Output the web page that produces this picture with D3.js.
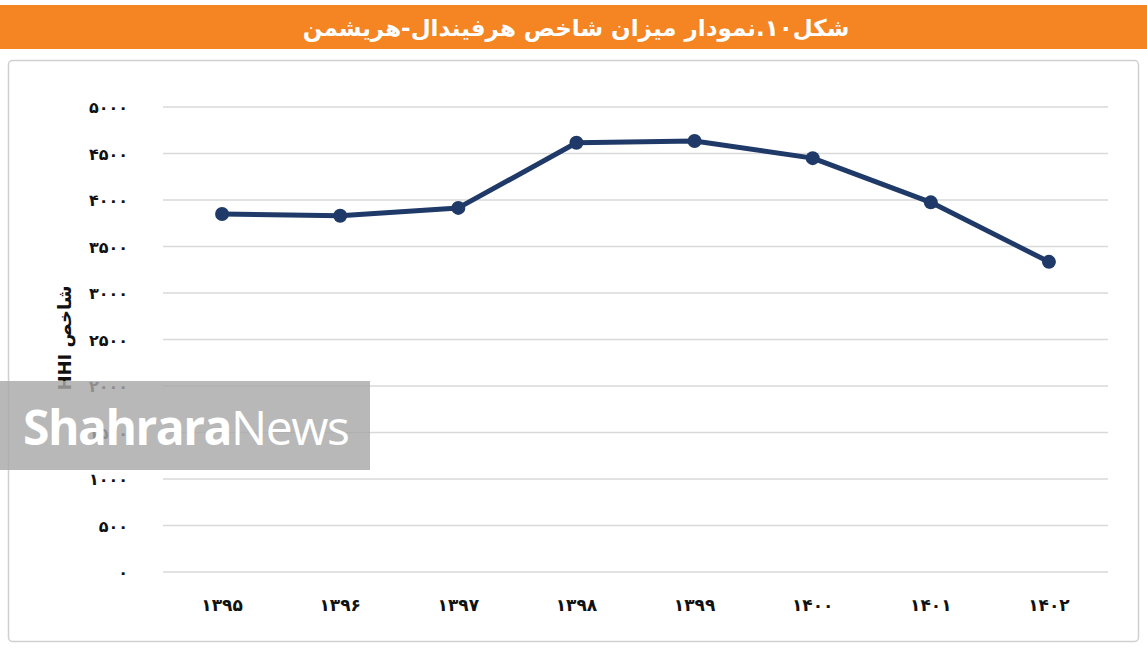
<!DOCTYPE html>
<html><head><meta charset="utf-8">
<script src="https://cdn.jsdelivr.net/npm/d3@7/dist/d3.min.js"></script>
<style>
html,body{margin:0;padding:0;background:#fff;}
svg{display:block;}
</style></head>
<body><svg id="c" width="1147" height="651"></svg>
<script>
const categories = ["۱۳۹۵","۱۳۹۶","۱۳۹۷","۱۳۹۸","۱۳۹۹","۱۴۰۰","۱۴۰۱","۱۴۰۲"];
const hhiValues = [3850, 3830, 3915, 4615, 4635, 4450, 3975, 3335];
const yTicks = [0,500,1000,1500,2000,2500,3000,3500,4000,4500,5000];
const titleText = "شکل۱۰.نمودار میزان شاخص هرفیندال-هریشمن";
const yAxisTitle = "شاخص HHI";

const fa = s => String(s).replace(/\d/g, d => "۰۱۲۳۴۵۶۷۸۹"[d]);
const svg = d3.select("#c");

// title bar
svg.append("rect").attr("x",0).attr("y",5).attr("width",1147).attr("height",44).attr("fill","#F58423");
svg.append("text").attr("x",576).attr("y",36).attr("text-anchor","middle")
  .attr("fill","#fff").attr("font-family","DejaVu Sans").attr("font-weight","bold")
  .attr("font-size",23).attr("direction","rtl").text(titleText);

// frame
svg.append("rect").attr("x",8.5).attr("y",60.5).attr("width",1130).attr("height",581)
  .attr("rx",4).attr("fill","#fff").attr("stroke","#d0d0d0").attr("stroke-width",1.5);

const x = d3.scaleBand().domain(categories).range([163,1108]).paddingInner(0).paddingOuter(0);
const y = d3.scaleLinear().domain([0,5000]).range([572,107]);

const g = svg.append("g");
// gridlines
g.selectAll(".grid").data(yTicks).join("line")
  .attr("x1",163).attr("x2",1108).attr("y1",d=>y(d)).attr("y2",d=>y(d))
  .attr("stroke","#d9d9d9").attr("stroke-width",1.3);

// y axis
const yAxis = d3.axisLeft(y).tickValues(yTicks).tickSize(0).tickFormat(d=>fa(d));
const ya = g.append("g").attr("transform","translate(131,0)").call(yAxis);
ya.select(".domain").remove();
ya.selectAll("text").attr("font-family","DejaVu Sans").attr("font-weight","bold")
  .attr("font-size",16).attr("fill","#111").attr("dx",0).attr("dy","0.35em");

// x axis
const xAxis = d3.axisBottom(x).tickSize(0);
const xa = g.append("g").attr("transform","translate(0,596)").call(xAxis);
xa.select(".domain").remove();
xa.selectAll("text").attr("font-family","DejaVu Sans").attr("font-weight","bold")
  .attr("font-size",17).attr("fill","#111").attr("dy","0.7em");

// y axis title
svg.append("text").attr("transform","translate(71,338) rotate(-90)")
  .attr("text-anchor","middle").attr("direction","rtl").attr("font-family","DejaVu Sans").attr("font-weight","bold")
  .attr("font-size",18).attr("fill","#111").text(yAxisTitle);

// line
const cx = d => x(d) + x.bandwidth()/2;
const line = d3.line().x((d,i)=>cx(categories[i])).y(d=>y(d));
svg.append("path").datum(hhiValues).attr("d",line).attr("fill","none")
  .attr("stroke","#1F3A68").attr("stroke-width",5).attr("stroke-linejoin","round");
svg.selectAll(".pt").data(hhiValues).join("circle")
  .attr("cx",(d,i)=>cx(categories[i])).attr("cy",d=>y(d)).attr("r",7).attr("fill","#1F3A68");

// watermark
svg.append("rect").attr("x",0).attr("y",381).attr("width",370).attr("height",89)
  .attr("fill","#a8a8a8").attr("opacity",0.82);
const wm = svg.append("text").attr("x",23).attr("y",445).attr("font-family","Open Sans")
  .attr("font-size",48).attr("fill","#fff").attr("letter-spacing",-1.5);
wm.append("tspan").attr("font-weight","bold").text("Shahrara");
wm.append("tspan").attr("font-weight","normal").text("News");
</script>
</body></html>
